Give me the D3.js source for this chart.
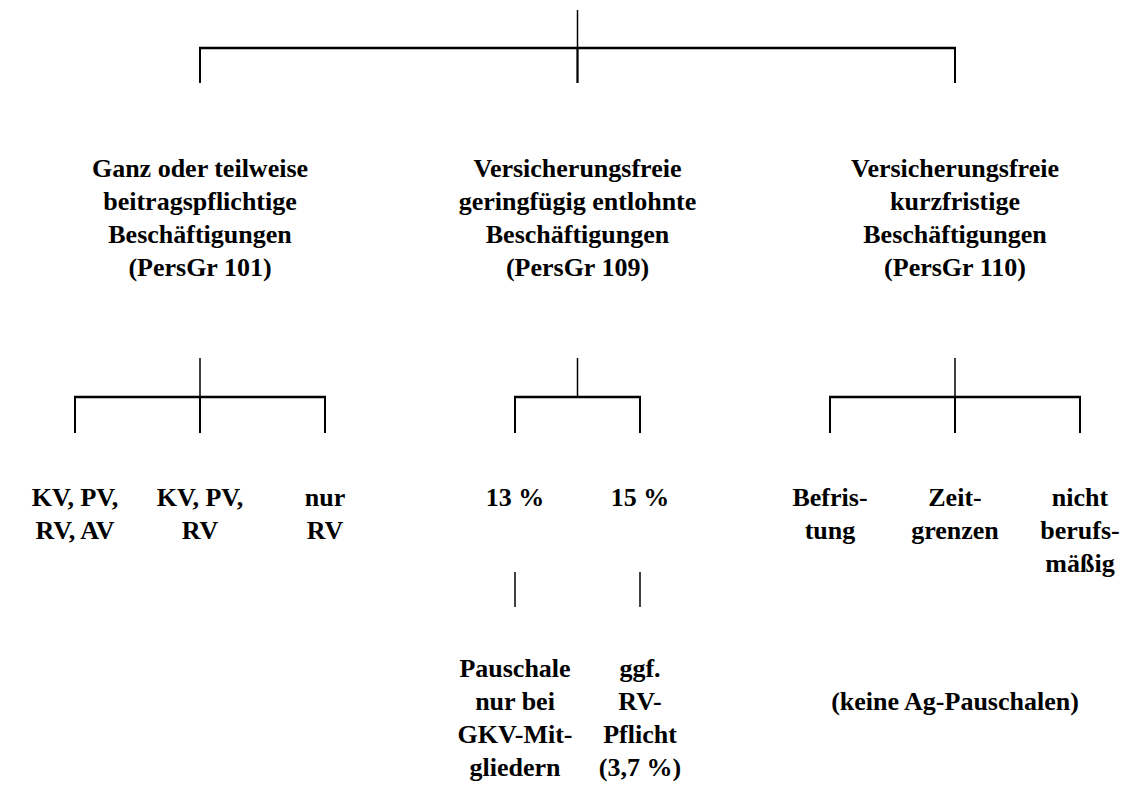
<!DOCTYPE html>
<html>
<head>
<meta charset="utf-8">
<script src="https://cdn.jsdelivr.net/npm/d3@7"></script>
</head>
<body style="margin:0; background:#fff">
<div id="chart"></div>
<script>
var WIDTH = 1124;
var HEIGHT = 789;

// group headings (second level)
var groupLabels = [
    ["Ganz oder teilweise", "beitragspflichtige", "Beschäftigungen", "(PersGr 101)"],
    ["Versicherungsfreie", "geringfügig entlohnte", "Beschäftigungen", "(PersGr 109)"],
    ["Versicherungsfreie", "kurzfristige", "Beschäftigungen", "(PersGr 110)"]
];

// third level, one list per group
var leaves101 = [["KV, PV,", "RV, AV"], ["KV, PV,", "RV"], ["nur", "RV"]];
var leaves109 = [["13 %"], ["15 %"]];
var leaves110 = [["Befris-", "tung"], ["Zeit-", "grenzen"], ["nicht", "berufs-", "mäßig"]];
var leafLists = [leaves101, leaves109, leaves110];

// notes under the 109 leaves and the 110 group
var notes109 = [["Pauschale", "nur bei", "GKV-Mit-", "gliedern"], ["ggf.", "RV-", "Pflicht", "(3,7 %)"]];
var notes110 = ["(keine Ag-Pauschalen)"];

var LINE_H = 33;

var svg = d3.select("#chart").append("svg")
    .attr("width", WIDTH)
    .attr("height", HEIGHT);

var xGroup = d3.scaleLinear().domain([0, groupLabels.length - 1]).range([200, 955]);
var xOffset = d3.scaleLinear().domain([-1, 1]).range([-125, 125]);

function leafX(g, i, n) {
    return xGroup(g) + xOffset(i - (n - 1) / 2);
}

function vline(x, y1, y2, w) {
    svg.append("line")
        .attr("x1", x).attr("x2", x)
        .attr("y1", y1).attr("y2", y2)
        .attr("stroke", "#000")
        .attr("stroke-width", w || 1.5);
}

function hline(x1, x2, y) {
    svg.append("line")
        .attr("x1", x1 - 1).attr("x2", x2 + 1)
        .attr("y1", y).attr("y2", y)
        .attr("stroke", "#000")
        .attr("stroke-width", 2.5);
}

// one text element per line
function block(x, y, lines) {
    svg.append("g").selectAll("text")
        .data(lines)
        .enter().append("text")
        .attr("x", x)
        .attr("y", function(d, i) { return y + i * LINE_H; })
        .style("font-family", "'Liberation Serif'")
        .style("font-weight", "bold")
        .style("font-size", "26px")
        .style("text-anchor", "middle")
        .text(function(d) { return d; });
}

// top connector
vline(xGroup(1), 10, 83);
hline(xGroup(0), xGroup(2), 48);
groupLabels.forEach(function(d, g) {
    vline(xGroup(g), 48, 83, 2);
    block(xGroup(g), 177, d);
});

// connectors to leaves
leafLists.forEach(function(list, g) {
    var n = list.length;
    vline(xGroup(g), 358, 397);
    hline(leafX(g, 0, n), leafX(g, n - 1, n), 397);
    list.forEach(function(lines, i) {
        vline(leafX(g, i, n), 397, 433, 2);
        block(leafX(g, i, n), 506, lines);
    });
});

// notes
notes109.forEach(function(lines, i) {
    var x = leafX(1, i, notes109.length);
    vline(x, 572, 607);
    block(x, 677, lines);
});
block(xGroup(2), 710, notes110);
</script>
</body>
</html>
